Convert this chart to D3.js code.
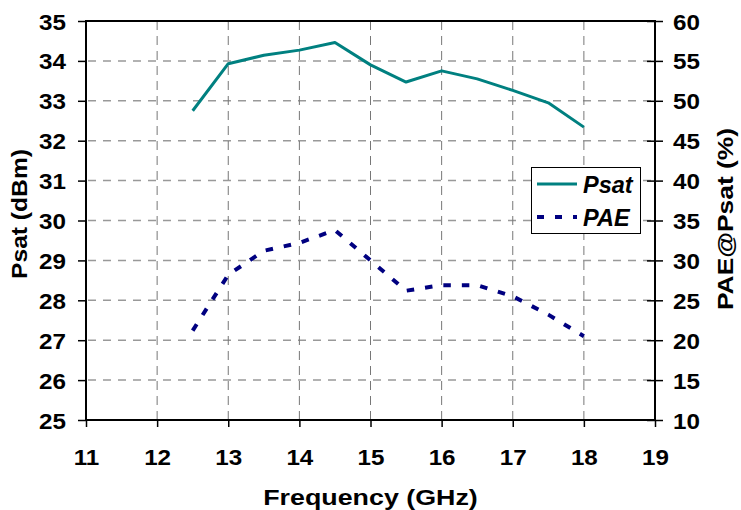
<!DOCTYPE html>
<html>
<head>
<meta charset="utf-8">
<script src="https://cdn.jsdelivr.net/npm/d3@7"></script>
<style>
  html, body { margin: 0; padding: 0; background: #fff; }
  svg text { font-family: "Liberation Sans", Arial, sans-serif; font-weight: bold; fill: #000; }
</style>
</head>
<body>
<svg id="chart" width="741" height="510"></svg>
<script>
// Saturated output power and efficiency versus frequency
const freq = [12.5, 13, 13.5, 14, 14.5, 15, 15.5, 16, 16.5, 17, 17.5, 18];
const psat = [32.75, 33.93, 34.14, 34.27, 34.46, 33.9, 33.47, 33.75, 33.55, 33.26, 32.95, 32.34];
const pae  = [21.2, 28.2, 31.2, 32.2, 33.8, 30.0, 26.2, 26.9, 26.9, 25.5, 23.2, 20.5];

const xTicks = [11, 12, 13, 14, 15, 16, 17, 18, 19];
const yLeftTicks = [25, 26, 27, 28, 29, 30, 31, 32, 33, 34, 35];
const yRightTicks = [10, 15, 20, 25, 30, 35, 40, 45, 50, 55, 60];
const seriesNames = ["Psat", "PAE"];

const svg = d3.select("#chart");
const L = 86, R = 655, T = 21, B = 420;

const x = d3.scaleLinear().domain([11, 19]).range([L, R]);
const yL = d3.scaleLinear().domain([25, 35]).range([B, T]);
const yR = d3.scaleLinear().domain([10, 60]).range([B, T]);

const SX = 1.1;      // horizontal stretch of the tick lettering
const FS = 22;

// grid
svg.append("g").selectAll("line").data(yLeftTicks.slice(1, -1)).join("line")
  .attr("x1", L).attr("x2", R).attr("y1", d => yL(d)).attr("y2", d => yL(d))
  .attr("stroke", "#999").attr("stroke-width", 1.5).attr("stroke-dasharray", "8,7")
  .attr("stroke-dashoffset", -2);
svg.append("g").selectAll("line").data(xTicks.slice(1, -1)).join("line")
  .attr("x1", d => x(d)).attr("x2", d => x(d)).attr("y1", T).attr("y2", B)
  .attr("stroke", "#777").attr("stroke-width", 1).attr("stroke-dasharray", "9,6");

// axes via d3 axis generators
const axBottom = svg.append("g").attr("transform", `translate(0,${B})`)
  .call(d3.axisBottom(x).tickValues(xTicks).tickSize(7).tickFormat(d3.format("d")));
const axLeft = svg.append("g").attr("transform", `translate(${L},0)`)
  .call(d3.axisLeft(yL).tickValues(yLeftTicks).tickSize(8).tickFormat(d3.format("d")));
const axRight = svg.append("g").attr("transform", `translate(${R},0)`)
  .call(d3.axisRight(yR).tickValues(yRightTicks).tickSize(8).tickFormat(d3.format("d")));

[axBottom, axLeft, axRight].forEach(g => {
  g.select(".domain").remove();
  g.selectAll(".tick line").attr("stroke", "#000").attr("stroke-width", 1.5);
  g.selectAll(".tick text").attr("font-size", FS).attr("font-family", null);
});
axRight.selectAll(".tick line").attr("x1", -8);

axLeft.selectAll(".tick text").attr("x", null).attr("dy", null)
  .attr("text-anchor", "end").attr("dominant-baseline", null)
  .attr("transform", `translate(-20,8) scale(${SX},1)`);
axRight.selectAll(".tick text").attr("x", null).attr("dy", null)
  .attr("text-anchor", "start")
  .attr("transform", `translate(18,8) scale(${SX},1)`);
axBottom.selectAll(".tick text").attr("y", null).attr("dy", null)
  .attr("text-anchor", "middle")
  .attr("transform", `translate(0,45) scale(${SX},1)`);

// frame
svg.append("rect").attr("x", L).attr("y", T).attr("width", R - L).attr("height", B - T)
  .attr("fill", "none").attr("stroke", "#000").attr("stroke-width", 2);

// series
const linePsat = d3.line().x((d, i) => x(freq[i])).y(d => yL(d));
const linePae = d3.line().x((d, i) => x(freq[i])).y(d => yR(d));
svg.append("path").datum(psat).attr("d", linePsat)
  .attr("fill", "none").attr("stroke", "#008080").attr("stroke-width", 3)
  .attr("stroke-linejoin", "round");
svg.append("path").datum(pae).attr("d", linePae)
  .attr("fill", "none").attr("stroke", "#000080").attr("stroke-width", 4)
  .attr("stroke-dasharray", "7.5,11");

// axis titles
svg.append("text").attr("font-size", FS)
  .attr("transform", `translate(${(L + R) / 2},505) scale(1.22,1)`)
  .attr("text-anchor", "middle").text("Frequency (GHz)");
svg.append("text").attr("font-size", FS)
  .attr("transform", `translate(27,214) rotate(-90) scale(1.12,1)`)
  .attr("text-anchor", "middle").text("Psat (dBm)");
svg.append("text").attr("font-size", FS)
  .attr("transform", `translate(733,219) rotate(-90) scale(1.2,1)`)
  .attr("text-anchor", "middle").text("PAE@Psat (%)");

// legend
const lg = svg.append("g");
lg.append("rect").attr("x", 531.5).attr("y", 167.5).attr("width", 109).attr("height", 66)
  .attr("fill", "#fff").attr("stroke", "#000").attr("stroke-width", 1);
const legendStyles = [
  { color: "#008080", dash: null, w: 3 },
  { color: "#000080", dash: "7,11", w: 4 }
];
seriesNames.forEach((name, i) => {
  const cy = 184 + i * 33;
  lg.append("line").attr("x1", 537).attr("x2", 577).attr("y1", cy).attr("y2", cy)
    .attr("stroke", legendStyles[i].color).attr("stroke-width", legendStyles[i].w)
    .attr("stroke-dasharray", legendStyles[i].dash);
  lg.append("text").attr("x", 583).attr("y", cy + 9).attr("font-size", 23.5)
    .attr("font-style", "italic").text(name);
});
</script>
</body>
</html>
